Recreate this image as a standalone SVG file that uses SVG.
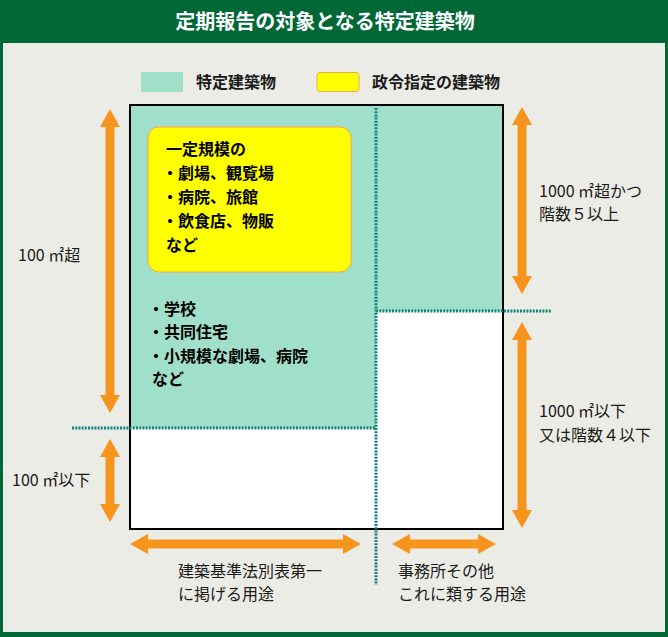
<svg xmlns="http://www.w3.org/2000/svg" width="668" height="637" viewBox="0 0 668 637">
<style>
text{font-family:"Noto Sans CJK JP","Noto Sans",sans-serif;fill:#1a1a1a}
.t{font-size:20px;font-weight:bold;fill:#fff}
.lg{font-size:16px;font-weight:bold}
.b{font-size:16px;font-weight:bold;fill:#000}
.n{font-size:16px}
.arr{fill:#F7941D}
.dot{stroke:#10847F;stroke-width:3;stroke-dasharray:2 1.2;fill:none}
</style>
<rect x="0" y="0" width="668" height="637" fill="#006837"/>
<rect x="3" y="43" width="662" height="589" fill="#ECECE6"/>
<text class="t" x="325" y="29" text-anchor="middle">定期報告の対象となる特定建築物</text>

<g id="legend">
<rect x="141" y="72" width="42" height="20" fill="#A0E0CA"/>
<text class="lg" x="196" y="88">特定建築物</text>
<rect x="317" y="72.5" width="42" height="19" rx="3" fill="#FFFF00" stroke="#F7A54A" stroke-width="1"/>
<text class="lg" x="372" y="88">政令指定の建築物</text>
</g>

<g id="chart">
<rect x="130" y="105" width="373" height="424" fill="#fff"/>
<polygon points="130,105 503,105 503,311 376,311 376,428 130,428" fill="#A0E0CA"/>
<rect x="130" y="105" width="373" height="424" fill="none" stroke="#000" stroke-width="2"/>
</g>

<g id="specified">
<text class="b" x="148" y="315">・学校</text>
<text class="b" x="148" y="338">・共同住宅</text>
<text class="b" x="148" y="362">・小規模な劇場、病院</text>
<text class="b" x="152" y="385">など</text>
</g>

<g id="designated">
<rect x="148" y="127" width="203" height="145" rx="11" fill="#FFFF00" stroke="#F7A54A" stroke-width="1"/>
<text class="b" x="166" y="155">一定規模の</text>
<text class="b" x="162" y="179">・劇場、観覧場</text>
<text class="b" x="162" y="203">・病院、旅館</text>
<text class="b" x="162" y="227">・飲食店、物販</text>
<text class="b" x="166" y="251">など</text>
</g>

<g id="connectors">
<path class="dot" d="M376 108V585"/>
<path class="dot" d="M72 428H376"/>
<path class="dot" d="M376 311H552"/>
<polygon class="arr" points="110,109 120,127 114.5,127 114.5,395 120,395 110,413 100,395 105.5,395 105.5,127 100,127"/>
<polygon class="arr" points="110,439 120,457 114.5,457 114.5,504 120,504 110,522 100,504 105.5,504 105.5,457 100,457"/>
<polygon class="arr" points="522,107 532,125 526.5,125 526.5,276 532,276 522,294 512,276 517.5,276 517.5,125 512,125"/>
<polygon class="arr" points="522,322 532,340 526.5,340 526.5,510 532,510 522,528 512,510 517.5,510 517.5,340 512,340"/>
<polygon class="arr" points="130,544 148,534 148,539.5 343,539.5 343,534 361,544 343,554 343,548.5 148,548.5 148,554"/>
<polygon class="arr" points="392,544 410,534 410,539.5 478,539.5 478,534 496,544 478,554 478,548.5 410,548.5 410,554"/>
</g>

<g id="labels">
<text class="n" x="18" y="261">100 ㎡超</text>
<text class="n" x="12" y="486">100 ㎡以下</text>
<text class="n" x="539" y="197">1000 ㎡超かつ</text>
<text class="n" x="539" y="220">階数５以上</text>
<text class="n" x="539" y="417">1000 ㎡以下</text>
<text class="n" x="539" y="441">又は階数４以下</text>
<text class="n" x="178" y="577">建築基準法別表第一</text>
<text class="n" x="178" y="600">に掲げる用途</text>
<text class="n" x="398" y="577">事務所その他</text>
<text class="n" x="398" y="600">これに類する用途</text>
</g>
</svg>
